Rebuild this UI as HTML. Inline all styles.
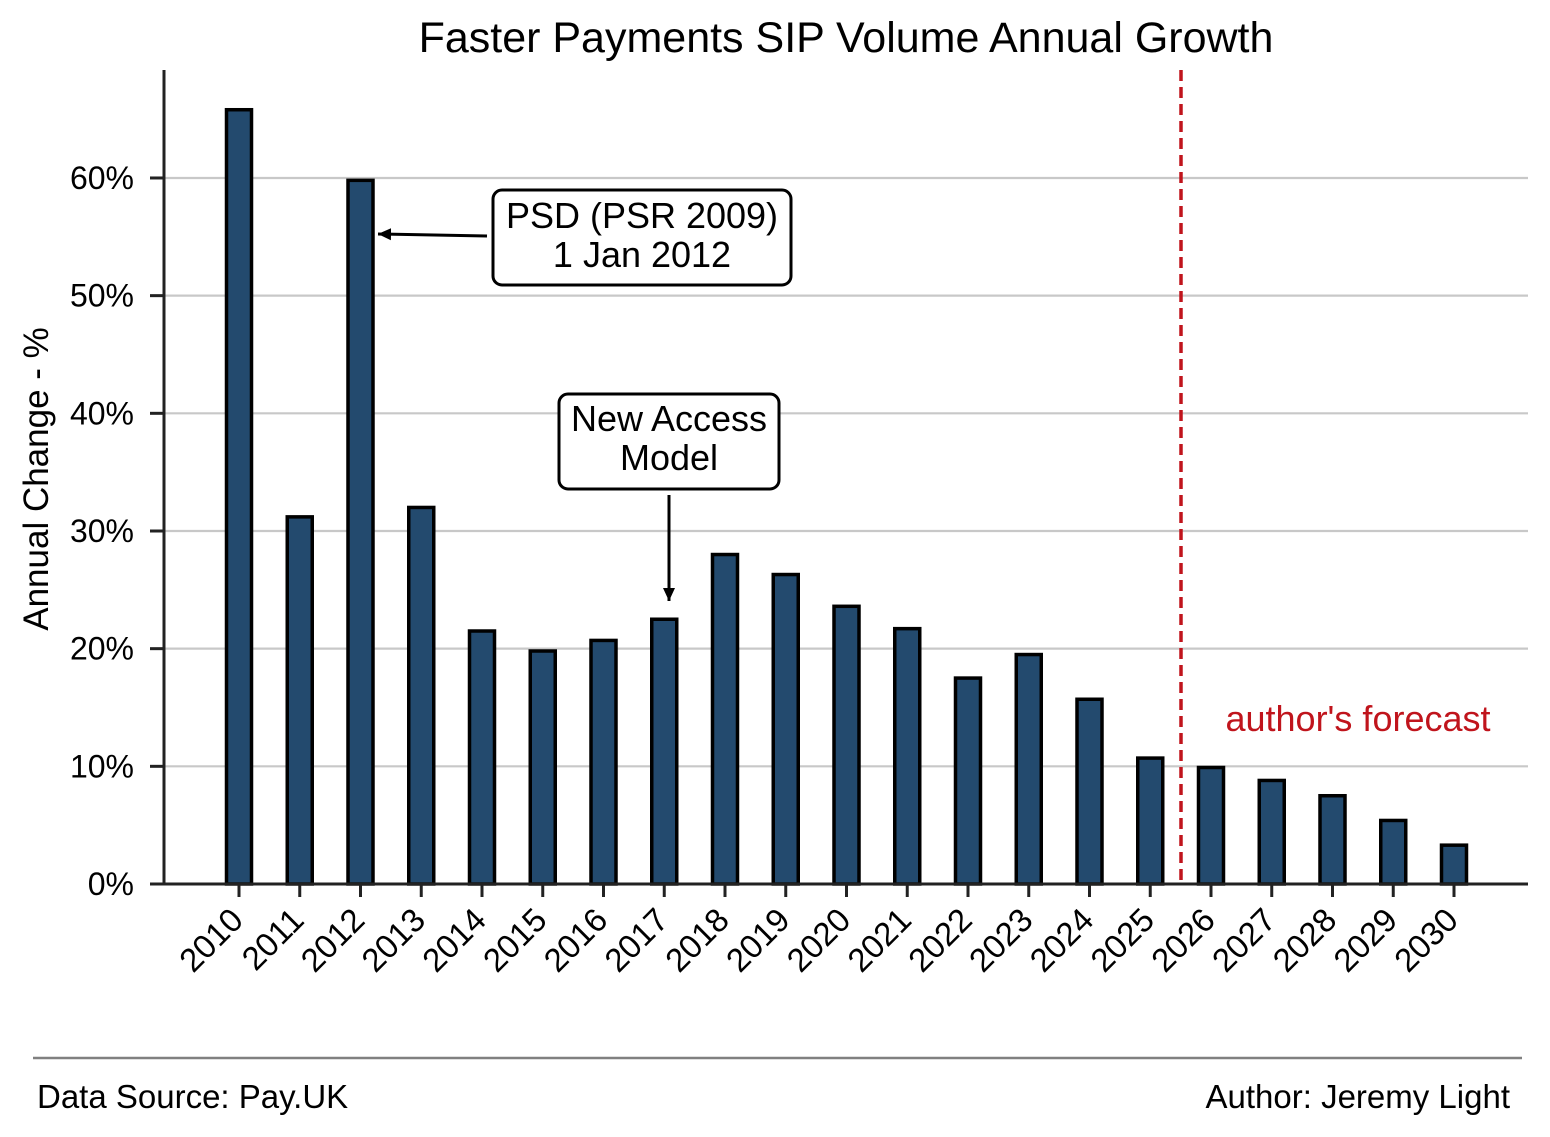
<!DOCTYPE html>
<html><head><meta charset="utf-8"><style>
body{margin:0;background:#fff;}
svg{display:block;font-family:"Liberation Sans",Arial,sans-serif;}
</style></head><body>
<svg id="chart" width="1550" height="1137" viewBox="0 0 1550 1137">
<defs><marker id="ah" markerWidth="14" markerHeight="14" refX="13" refY="7" orient="auto" markerUnits="userSpaceOnUse"><path d="M0,1 L13,7 L0,13 Z" fill="#000"/></marker></defs>
<text x="846" y="52" font-size="43" text-anchor="middle">Faster Payments SIP Volume Annual Growth</text>
<g id="grid"></g>
<g id="bars"></g>
<g id="axes"></g>
<text transform="translate(48,479) rotate(-90)" font-size="35" text-anchor="middle">Annual Change - %</text>
<line x1="1181" y1="70" x2="1181" y2="884" stroke="#c0141c" stroke-width="3.5" stroke-dasharray="11,6"/>
<text x="1358" y="731" font-size="36" fill="#c0141c" text-anchor="middle">author's forecast</text>
<g>
<rect x="493" y="190" width="298" height="95" rx="9" fill="#fff" stroke="#000" stroke-width="3"/>
<text x="642" y="228" font-size="36" text-anchor="middle">PSD (PSR 2009)</text>
<text x="642" y="267" font-size="36" text-anchor="middle">1 Jan 2012</text>
<line x1="487" y1="236" x2="378" y2="234" stroke="#000" stroke-width="3" marker-end="url(#ah)"/>
</g>
<g>
<rect x="559" y="394" width="220" height="95" rx="9" fill="#fff" stroke="#000" stroke-width="3"/>
<text x="669" y="431" font-size="36" text-anchor="middle">New Access</text>
<text x="669" y="470" font-size="36" text-anchor="middle">Model</text>
<line x1="669" y1="495" x2="669" y2="601" stroke="#000" stroke-width="3" marker-end="url(#ah)"/>
</g>
<line x1="33" y1="1058" x2="1522" y2="1058" stroke="#808080" stroke-width="2.5"/>
<text x="37" y="1108" font-size="33">Data Source: Pay.UK</text>
<text x="1510" y="1108" font-size="33" text-anchor="end">Author: Jeremy Light</text>
</svg>
<script>
const years=["2010","2011","2012","2013","2014","2015","2016","2017","2018","2019","2020","2021","2022","2023","2024","2025","2026","2027","2028","2029","2030"];
const growth=[65.8,31.2,59.8,32.0,21.5,19.8,20.7,22.5,28.0,26.3,23.6,21.7,17.5,19.5,15.7,10.7,9.9,8.8,7.5,5.4,3.3];
const yTicks=[0,10,20,30,40,50,60];
const NS="http://www.w3.org/2000/svg";
const y0=884,pxPer=11.767;
const xs=i=>239+i*60.75;
const ys=v=>y0-v*pxPer;
function mk(tag,attrs,parent){const e=document.createElementNS(NS,tag);for(const k in attrs)e.setAttribute(k,attrs[k]);parent.appendChild(e);return e;}
const grid=document.getElementById('grid'),bars=document.getElementById('bars'),axes=document.getElementById('axes');
yTicks.forEach(t=>{
  if(t>0){const g=mk('line',{x1:164,x2:1528,y1:ys(t),y2:ys(t),stroke:'#c8c8c8','stroke-width':2.2},grid);
  
  }
  mk('line',{x1:150,x2:164,y1:ys(t),y2:ys(t),stroke:'#222','stroke-width':3},axes);
  const tx=mk('text',{x:134,y:ys(t)+11,'font-size':32,'text-anchor':'end'},axes);
  tx.textContent=t+'%';
  
  
});
growth.forEach((v,i)=>{
  const r=mk('rect',{x:xs(i)-12.5,y:ys(v),width:25,height:y0-ys(v),fill:'#234a6e',stroke:'#000','stroke-width':3.5},bars);
  
  
  mk('line',{x1:xs(i),x2:xs(i),y1:y0,y2:y0+13,stroke:'#222','stroke-width':3},axes);
  const t=mk('text',{transform:`translate(${xs(i)+6},${y0+38}) rotate(-45)`,'font-size':33,'text-anchor':'end'},axes);
  t.textContent=years[i];
  
  
});
const ya=mk('line',{x1:164,x2:164,y1:70,y2:885,stroke:'#222','stroke-width':3},axes);


const xa=mk('line',{x1:150,x2:1528,y1:y0,y2:y0,stroke:'#222','stroke-width':3},axes);


</script>
</body></html>
